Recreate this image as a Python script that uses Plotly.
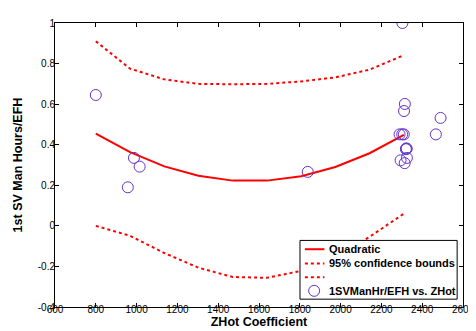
import plotly.graph_objects as go

# Data points (ZHot coefficient, 1st SV Man Hours/EFH)
zhot = [800, 957, 987, 1015, 1839, 2303, 2315, 2311, 2289, 2302, 2310, 2467, 2490,
        2320, 2322, 2324, 2325, 2294, 2314]
mh = [0.645, 0.19, 0.335, 0.292, 0.266, 1.0, 0.601, 0.566, 0.451, 0.451, 0.451, 0.451, 0.532,
      0.378, 0.382, 0.38, 0.335, 0.323, 0.309]

# Fit curve and confidence bounds
fit_x = [800, 968, 1136, 1303, 1471, 1639, 1807, 1974, 2142, 2310]
fit_y = [0.455, 0.363, 0.293, 0.247, 0.223, 0.223, 0.245, 0.290, 0.358, 0.449]
upper = [0.910, 0.775, 0.722, 0.700, 0.698, 0.700, 0.712, 0.732, 0.770, 0.841]
lower = [0.000, -0.049, -0.134, -0.206, -0.252, -0.256, -0.222, -0.152, -0.054, 0.060]

x_ticks = list(range(600, 2601, 200))
x_ticktext = [str(v) for v in x_ticks]
y_ticks = [-0.4, -0.2, 0, 0.2, 0.4, 0.6, 0.8, 1.0]
y_ticktext = ["-0.4", "-0.2", "0", "0.2", "0.4", "0.6", "0.8", "1"]

legend_labels = ["Quadratic", "95% confidence bounds", "", "1SVManHr/EFH vs. ZHot"]

red = "#ff0000"
purple = "#6633cc"
FONT = "Liberation Sans, Arial, Helvetica, sans-serif"

fig = go.Figure()
fig.add_trace(go.Scatter(x=fit_x, y=fit_y, mode="lines", name=legend_labels[0],
                         line=dict(color=red, width=2), showlegend=False))
fig.add_trace(go.Scatter(x=fit_x, y=upper, mode="lines", name=legend_labels[1],
                         line=dict(color=red, width=2, dash="dot"), showlegend=False))
fig.add_trace(go.Scatter(x=fit_x, y=lower, mode="lines", name="lower bound",
                         line=dict(color=red, width=2, dash="dot"), showlegend=False))
fig.add_trace(go.Scatter(x=zhot, y=mh, mode="markers", name=legend_labels[3],
                         marker=dict(symbol="circle-open", size=11, color=purple,
                                     line=dict(width=1, color=purple)),
                         showlegend=False))

axis_common = dict(showgrid=False, zeroline=False, showline=True, linecolor="black",
                   linewidth=1, mirror="ticks", ticks="inside", ticklen=4,
                   tickcolor="black", tickfont=dict(size=10, color="black", family=FONT),
                   ticklabeloverflow="allow")

# --- Legend box (drawn in paper coordinates) ---
W, H = 476, 331
L, R, T, B = 46, 12, 9, 32
pw, ph = W - L - R, H - T - B


def px(x):
    return (x - L) / pw


def py(y):
    return (H - B - y) / ph


shapes = [
    dict(type="rect", xref="paper", yref="paper", x0=px(297), x1=px(458), y0=py(291), y1=py(231),
         line=dict(color="black", width=1), fillcolor="white", layer="above"),
    dict(type="line", xref="paper", yref="paper", x0=px(302), x1=px(322), y0=py(240), y1=py(240),
         line=dict(color=red, width=2), layer="above"),
    dict(type="line", xref="paper", yref="paper", x0=px(302), x1=px(322), y0=py(254.5), y1=py(254.5),
         line=dict(color=red, width=2, dash="dot"), layer="above"),
    dict(type="line", xref="paper", yref="paper", x0=px(302), x1=px(322), y0=py(268.5), y1=py(268.5),
         line=dict(color=red, width=2, dash="dot"), layer="above"),
    dict(type="circle", xref="paper", yref="paper", xsizemode="pixel", ysizemode="pixel",
         xanchor=px(311.5), yanchor=py(282.5), x0=-5.5, x1=5.5, y0=-5.5, y1=5.5,
         line=dict(color=purple, width=1), layer="above"),
]
annotations = []
for label, yy in zip(legend_labels, [240, 254.5, 268.5, 282.5]):
    if label:
        annotations.append(dict(xref="paper", yref="paper", x=px(324.5), y=py(yy),
                                text="<b>" + label + "</b>", showarrow=False,
                                xanchor="left", yanchor="middle",
                                font=dict(size=11, color="black", family=FONT)))

fig.update_layout(
    width=W, height=H,
    margin=dict(l=L, r=R, t=T, b=B, pad=0),
    paper_bgcolor="white", plot_bgcolor="white",
    font=dict(family=FONT, color="black"),
    showlegend=False,
    xaxis=dict(range=[600, 2600], tickvals=x_ticks, ticktext=x_ticktext,
               ticklabelstandoff=-7,
               title=dict(text="<b>ZHot Coefficient</b>", font=dict(size=12.5), standoff=0),
               **axis_common),
    yaxis=dict(range=[-0.4, 1.0], tickvals=y_ticks, ticktext=y_ticktext,
               ticklabelstandoff=-3,
               title=dict(text="<b>1st SV Man Hours/EFH</b>", font=dict(size=12.5), standoff=12),
               **axis_common),
    shapes=shapes,
    annotations=annotations,
)
fig.write_html("out.html")
